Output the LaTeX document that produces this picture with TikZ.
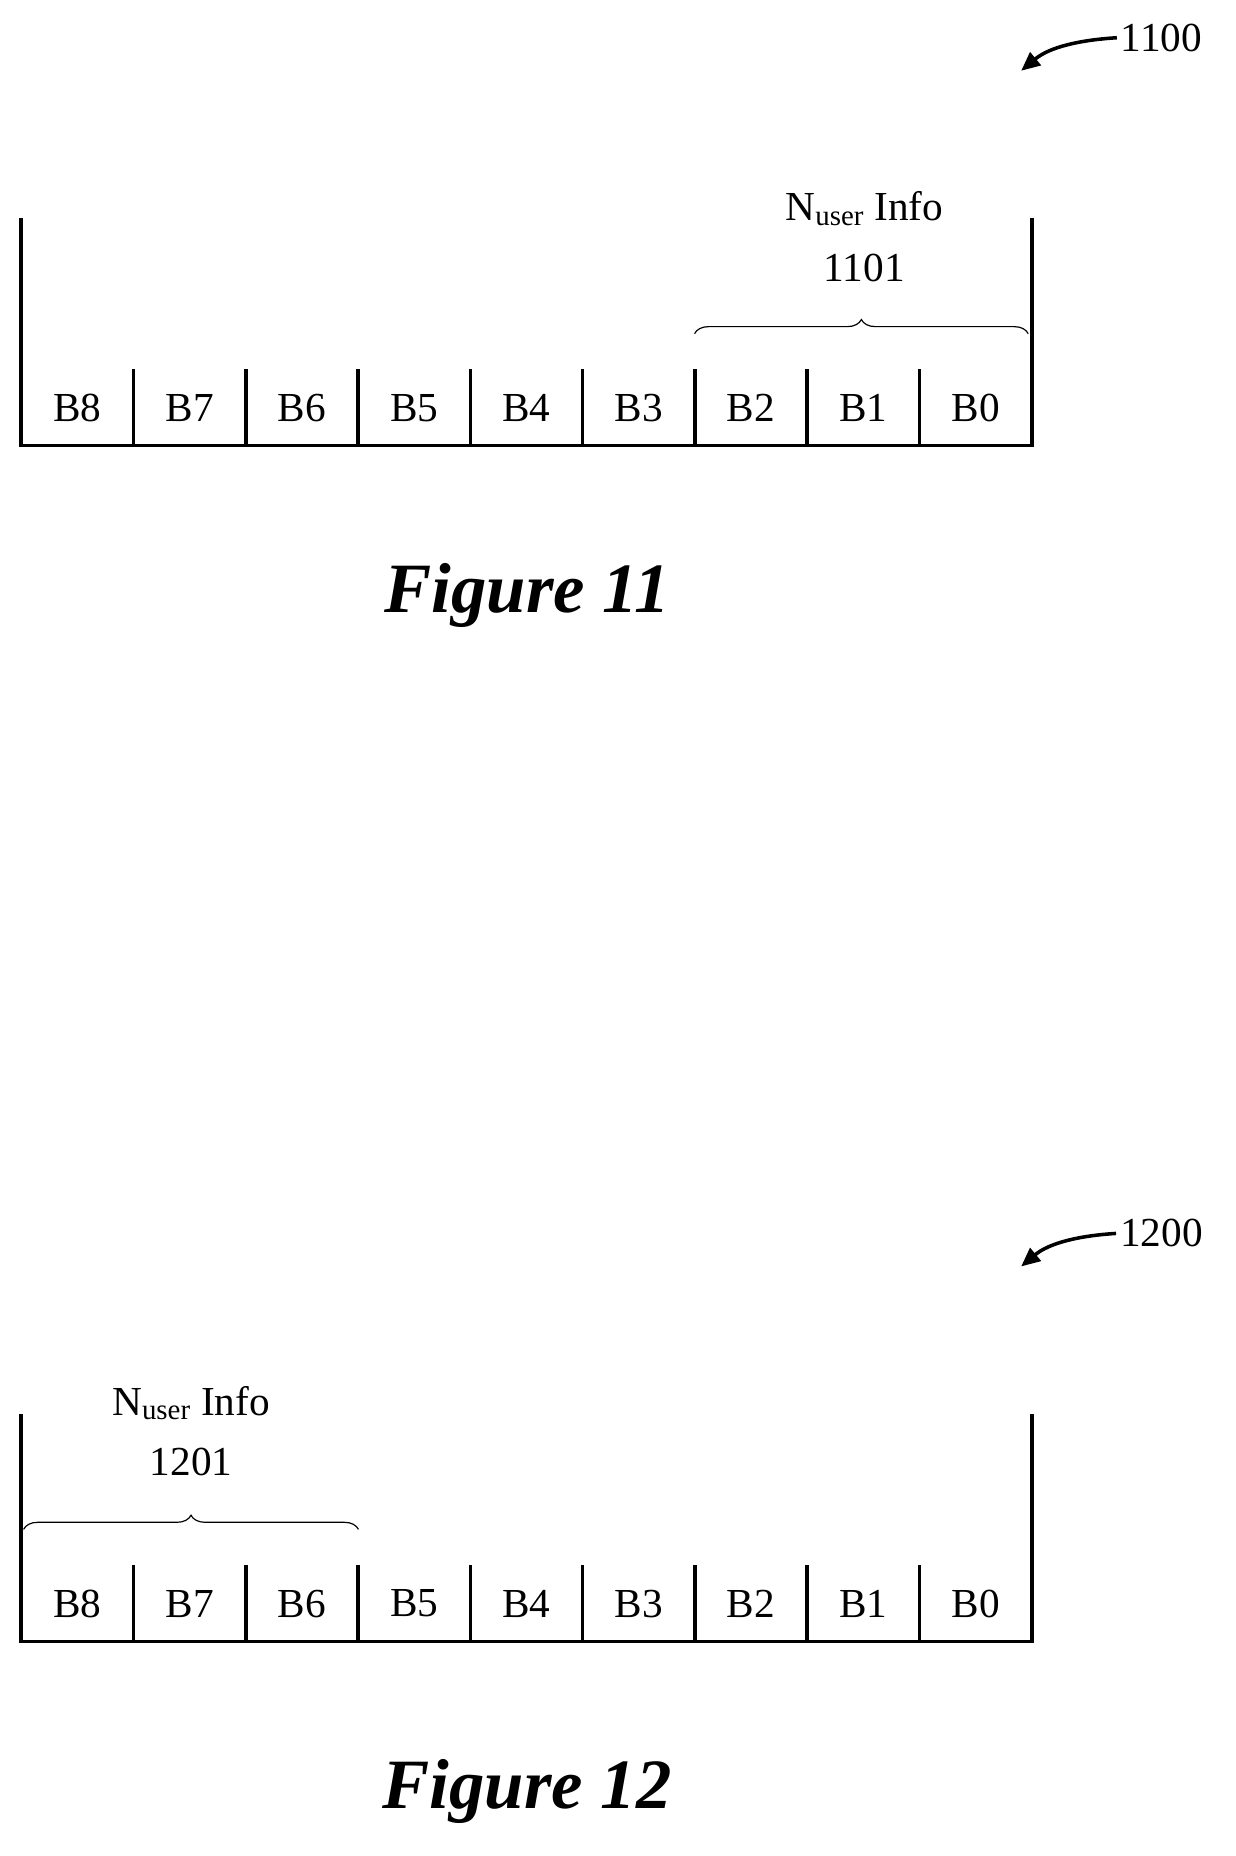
\documentclass[tikz,border=0pt]{standalone}
\usepackage{fontspec}
\setmainfont{Liberation Serif}
\usetikzlibrary{decorations.pathreplacing,arrows.meta}
\begin{document}
\begin{tikzpicture}[x=1pt,y=-1pt,
  wall/.style={line width=3pt},
  cell/.style={font=\fontsize{35}{40}\selectfont},
  lbl/.style={font=\fontsize{35}{40}\selectfont},
  figcap/.style={font=\fontsize{60}{68}\selectfont\bfseries\itshape},
  br/.style={decorate,decoration={brace,amplitude=12pt},line width=1pt}]
\useasboundingbox (0,0) rectangle (1048,1574);
\foreach \oy/\fig/\num in {0/11/1100, 1014/12/1200}{
  \begin{scope}[yshift=-\oy]
  \draw[wall] (18,185) -- (18,378) -- (875,378) -- (875,185);
  \foreach \i in {1,...,8}{\draw[wall] (18+95.22*\i,313) -- (18+95.22*\i,378);}
  \foreach \i/\t in {0/B8,1/B7,2/B6,3/B5,4/B4,5/B3,6/B2,7/B1,8/B0}{
    \node[cell] (c\i-\fig) at (18+95.22*\i+47.6,346) {\t};}
  \node[lbl] (r\fig) at (985,32) {\num};
  \coordinate (t\fig) at (866,60);
  \draw[line width=3pt,-{Triangle[length=16pt,width=14pt]}] (r\fig.west) .. controls (915,34) and (890,40) .. (t\fig);
  \node[figcap] (f\fig) at (447,505) {Figure \fig};
  \end{scope}}
\draw[br] (589,283) -- (872,283);
\node[lbl] (n1) at (733,177) {N\textsubscript{user} Info};
\node[lbl] (m1) at (733,227) {1101};
\draw[br] (20,1297) -- (304,1297);
\node[lbl] (n2) at (162,1190) {N\textsubscript{user} Info};
\node[lbl] (m2) at (162,1240) {1201};
\end{tikzpicture}
\end{document}
